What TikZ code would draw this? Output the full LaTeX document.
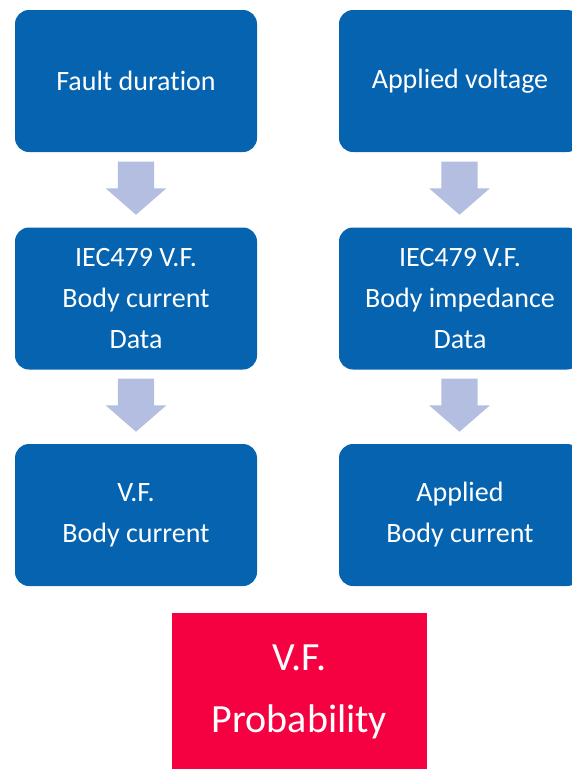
\documentclass[tikz,border=0pt]{standalone}
\usepackage{fontspec}
\setmainfont{Carlito}[Ligatures=NoCommon]
\usepackage{xcolor}
\usepackage{tikz}
\usetikzlibrary{shapes.arrows}
\definecolor{boxblue}{RGB}{5,99,176}
\definecolor{arrowgray}{RGB}{180,190,224}
\definecolor{probred}{RGB}{245,0,64}

\begin{document}
\begin{tikzpicture}[
    x=1pt, y=-1pt,
    every node/.style={font=\fontsize{28}{41}\selectfont, text=white, align=center},
    box/.style={rectangle, rounded corners=14pt, fill=boxblue, minimum width=242pt, minimum height=142pt, inner sep=0pt},
    flow/.style={single arrow, fill=arrowgray, shape border rotate=270, minimum height=53pt, minimum width=60pt, single arrow head extend=12pt, single arrow tip angle=98, inner sep=18pt, anchor=tip},
    result/.style={rectangle, fill=probred, minimum width=255pt, minimum height=158pt, inner sep=0pt, font=\fontsize{40}{62}\selectfont},
]
\useasboundingbox (0,0) rectangle (571,769);
\node[box] (fault) at (136,81) {Fault duration};
\node[box] (volt) at (460,81) {Applied voltage};
\node[box] (curdata) at (136,298.5) {IEC479 V.F.\\Body current\\Data};
\node[box] (impdata) at (460,298.5) {IEC479 V.F.\\Body impedance\\Data};
\node[box] (vfcur) at (136,515) {V.F.\\Body current};
\node[box] (appcur) at (460,515) {Applied\\Body current};
\node[flow] (a1) at (136,215) {};
\node[flow] (a2) at (459.5,215) {};
\node[flow] (a3) at (136,432) {};
\node[flow] (a4) at (459.5,432) {};
\node[result] (prob) at (299.5,692) {V.F.\\Probability};
\end{tikzpicture}
\end{document}
